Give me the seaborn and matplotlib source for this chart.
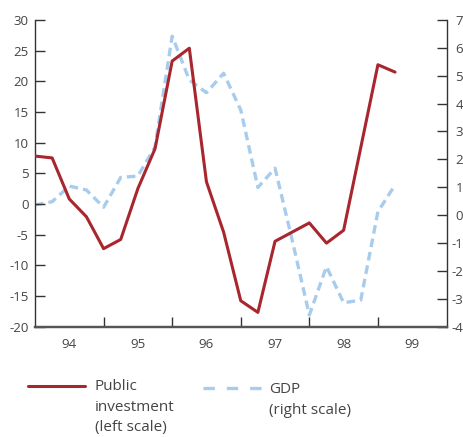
import numpy as np
import pandas as pd
import matplotlib
matplotlib.use("Agg")
import matplotlib.pyplot as plt
from matplotlib.lines import Line2D
import seaborn as sns

# Quarterly series, 1994Q1 - 1999Q2 (percentage change on a year earlier)
years = [1994] * 4 + [1995] * 4 + [1996] * 4 + [1997] * 4 + [1998] * 4 + [1999] * 2
quarters = [1, 2, 3, 4] * 5 + [1, 2]
public_investment = [7.8, 7.5, 0.8, -2.1, -7.3, -5.8, 2.5, 9.0,
                     23.3, 25.4, 3.6, -4.6, -15.8, -17.7, -6.1, -4.6,
                     -3.1, -6.4, -4.3, 9.2, 22.7, 21.5]
gdp = [0.36, 0.48, 1.04, 0.9, 0.28, 1.35, 1.4, 2.45,
       6.42, 4.85, 4.39, 5.09, 3.77, 0.99, 1.68, -0.9,
       -3.59, -1.85, -3.15, -3.05, 0.12, 1.08]

year_labels = ["94", "95", "96", "97", "98", "99"]
left_ticks = [30, 25, 20, 15, 10, 5, 0, -5, -10, -15, -20]
right_ticks = [7, 6, 5, 4, 3, 2, 1, 0, -1, -2, -3, -4]

df = pd.DataFrame({"year": years, "quarter": quarters,
                   "investment": public_investment, "gdp": gdp})
df["t"] = df["year"] + (df["quarter"] - 1) / 4.0

sns.set_theme(style="white")
plt.rcParams["font.family"] = ["Open Sans", "DejaVu Sans"]
plt.rcParams["axes.unicode_minus"] = False

RED = "#A8262D"
BLUE = "#A9CCEC"
TXT = "#444444"
SPINE = "#333333"

W, H = 464, 437
fig = plt.figure(figsize=(W / 100, H / 100), dpi=100)
ax = fig.add_axes([35 / W, 1 - 326.5 / H, (446.5 - 35) / W, (326.5 - 20) / H])
ax2 = ax.twinx()

sns.lineplot(data=df, x="t", y="gdp", ax=ax2, color=BLUE, lw=2.4,
             dashes=False, linestyle=(0, (2.6, 1.5)), zorder=2)
sns.lineplot(data=df, x="t", y="investment", ax=ax, color=RED, lw=2.2, zorder=3)
ax.set_zorder(ax2.get_zorder() + 1)
ax.patch.set_visible(False)

ax.set_xlim(1994, 2000)
ax.set_ylim(-20, 30)
ax2.set_ylim(-4, 7)

ax.set_xticks([y + 0.5 for y in range(1994, 2000)])
ax.set_xticklabels(year_labels)
ax.set_xticks(list(range(1995, 2000)), minor=True)
ax.tick_params(axis="x", which="major", length=0, pad=8, labelsize=9.5, labelcolor=TXT)
ax.tick_params(axis="x", which="minor", direction="in", length=7.5, width=1.0,
               color=SPINE, bottom=True)

ax.set_yticks(left_ticks)
ax.tick_params(axis="y", direction="in", length=7.5, width=1.0, color=SPINE,
               pad=4.5, labelsize=9.5, labelcolor=TXT, left=True)
ax2.set_yticks(right_ticks)
ax2.tick_params(axis="y", direction="in", length=7.5, width=1.0, color=SPINE,
                pad=12.0, labelsize=9.5, labelcolor=TXT, right=True)
for lbl in ax2.get_yticklabels():
    lbl.set_horizontalalignment("right")

for a in (ax, ax2):
    a.set_xlabel("")
    a.set_ylabel("")
    a.grid(False)
    a.spines["top"].set_visible(False)
    for s in ("left", "right"):
        a.spines[s].set_color(SPINE)
        a.spines[s].set_linewidth(1.0)
    a.spines["bottom"].set_color("#555555")
    a.spines["bottom"].set_linewidth(1.6)
ax.spines["right"].set_visible(False)
ax2.spines["left"].set_visible(False)

# Legend, drawn below the plot area
fig.add_artist(Line2D([28 / W, 85 / W], [1 - 385.5 / H] * 2, color=RED, lw=2.2))
fig.add_artist(Line2D([203 / W, 262 / W], [1 - 388 / H] * 2, color=BLUE, lw=2.4,
                      linestyle=(0, (3.4, 3.6))))
fig.text(95 / W, 1 - 379 / H, "Public\ninvestment\n(left scale)", color=TXT,
         fontsize=11, va="top", ha="left", linespacing=1.52)
fig.text(269 / W, 1 - 382 / H, "GDP\n(right scale)", color=TXT,
         fontsize=11, va="top", ha="left", linespacing=1.52)

fig.savefig("out.png", dpi=100)
